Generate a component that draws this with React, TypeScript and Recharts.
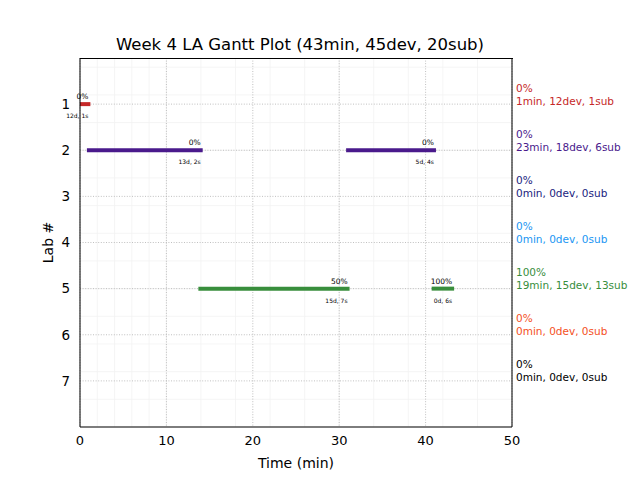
import React from 'react';
import { LineChart, Line, XAxis, YAxis, CartesianGrid } from 'recharts';

// Gantt segments
const segLab = [1, 2, 2, 5, 5];
const segStart = [0, 0.8, 30.8, 13.7, 40.7];
const segEnd = [1.2, 14.2, 41.2, 31.2, 43.3];
const segPct = ['0%', '0%', '0%', '50%', '100%'];
const segInfo = ['12d, 1s', '13d, 2s', '5d, 4s', '15d, 7s', '0d, 6s'];

// Per-lab summaries (right side)
const labs = [1, 2, 3, 4, 5, 6, 7];
const labPct = ['0%', '0%', '0%', '0%', '100%', '0%', '0%'];
const labInfo = [
  '1min, 12dev, 1sub',
  '23min, 18dev, 6sub',
  '0min, 0dev, 0sub',
  '0min, 0dev, 0sub',
  '19min, 15dev, 13sub',
  '0min, 0dev, 0sub',
  '0min, 0dev, 0sub',
];
const labColors = ['#c62828', '#4a1a8c', '#1a237e', '#2196f3', '#388e3c', '#f4511e', '#000000'];

const xTicks = [0, 10, 20, 30, 40, 50];
const xDomain = [0, 50];
const yDomain = [0, 8];
const title = 'Week 4 LA Gantt Plot (43min, 45dev, 20sub)';

const FONT = 'DejaVu Sans, sans-serif';

const xMinor: number[] = [];
for (let v = 0; v <= 50; v += 2) xMinor.push(v);
const yMinor: number[] = [];
for (let i = 0; i <= 40; i++) yMinor.push(i / 5);

const renderRightTick = (props: any) => {
  const { x, y, payload } = props;
  const i = labs.indexOf(Number(payload.value));
  if (i < 0) return <g />;
  return (
    <g>
      <text x={x} y={y - 12.5} fill={labColors[i]} fontSize={10.5} fontFamily={FONT} textAnchor="start">
        {labPct[i]}
      </text>
      <text x={x} y={y + 0.5} fill={labColors[i]} fontSize={10.5} fontFamily={FONT} textAnchor="start">
        {labInfo[i]}
      </text>
    </g>
  );
};

const makeLabel = (s: number) => (props: any) => {
  const { x, y, index } = props;
  if (index !== 1) return <g key={`lbl-${s}-${index}`} />;
  return (
    <g key={`lbl-${s}`}>
      <text x={x - 2} y={y - 5} fontSize={7.5} fontFamily={FONT} textAnchor="end" fill="#000">
        {segPct[s]}
      </text>
      <text x={x - 2} y={y + 14} fontSize={6} fontFamily={FONT} textAnchor="end" fill="#000">
        {segInfo[s]}
      </text>
    </g>
  );
};

const hiddenData = labs.map((l) => ({ x: 0, y: l }));

export default function App() {
  return (
    <div style={{ position: 'absolute', left: 0, top: 0, width: 640, height: 480, background: '#fff' }}>
      <div
        style={{
          position: 'absolute',
          left: 84,
          width: 432,
          top: 35,
          textAlign: 'center',
          fontFamily: FONT,
          fontSize: 16.5,
          lineHeight: '20px',
          color: '#000',
        }}
      >
        {title}
      </div>
      <LineChart width={640} height={480} margin={{ top: 58, right: 0, left: 0, bottom: 0 }}>
        <CartesianGrid
          stroke="#f2f2f2"
          strokeWidth={0.8}
          verticalValues={xMinor}
          horizontalValues={yMinor}
        />
        <CartesianGrid
          stroke="#b0b0b0"
          strokeWidth={0.8}
          strokeDasharray="1 1.6"
          verticalValues={xTicks}
          horizontalValues={labs}
        />
        <XAxis
          xAxisId="0"
          dataKey="x"
          type="number"
          domain={xDomain}
          ticks={xTicks}
          height={53}
          tickLine={false}
          tickSize={0}
          tickMargin={9}
          axisLine={{ stroke: '#000', strokeWidth: 1 }}
          tick={{ fill: '#000', fontSize: 13, fontFamily: FONT }}
          label={{ value: 'Time (min)', position: 'center', dy: 10, fill: '#000', fontSize: 14, fontFamily: FONT }}
          allowDataOverflow
        />
        <YAxis
          yAxisId="0"
          type="number"
          domain={yDomain}
          reversed
          ticks={labs}
          width={80}
          tickLine={false}
          tickSize={0}
          tickMargin={10}
          axisLine={{ stroke: '#000', strokeWidth: 1 }}
          tick={{ fill: '#000', fontSize: 13.5, fontFamily: FONT }}
          label={{ value: 'Lab #', angle: -90, position: 'center', dx: 8, fill: '#000', fontSize: 14, fontFamily: FONT }}
          allowDataOverflow
        />
        <YAxis
          yAxisId="right"
          orientation="right"
          type="number"
          domain={yDomain}
          reversed
          ticks={labs}
          width={128}
          tickLine={false}
          tickSize={0}
          tickMargin={4}
          axisLine={{ stroke: '#000', strokeWidth: 1 }}
          tick={renderRightTick}
          allowDataOverflow
        />
        <Line
          xAxisId="0"
          yAxisId="right"
          data={hiddenData}
          dataKey="y"
          stroke="none"
          strokeWidth={0}
          dot={false}
          activeDot={false}
          isAnimationActive={false}
        />
        {segLab.map((lab, s) => (
          <Line
            key={s}
            xAxisId="0"
            yAxisId="0"
            data={[
              { x: segStart[s], y: lab },
              { x: segEnd[s], y: lab },
            ]}
            dataKey="y"
            type="linear"
            stroke={labColors[lab - 1]}
            strokeWidth={4}
            dot={false}
            activeDot={false}
            isAnimationActive={false}
            label={makeLabel(s)}
          />
        ))}
      </LineChart>
      {/* top edge of the plot frame */}
      <div
        style={{
          position: 'absolute',
          left: 80,
          top: 58,
          width: 433,
          height: 1,
          background: '#000',
          zIndex: 1,
        }}
      />
    </div>
  );
}
